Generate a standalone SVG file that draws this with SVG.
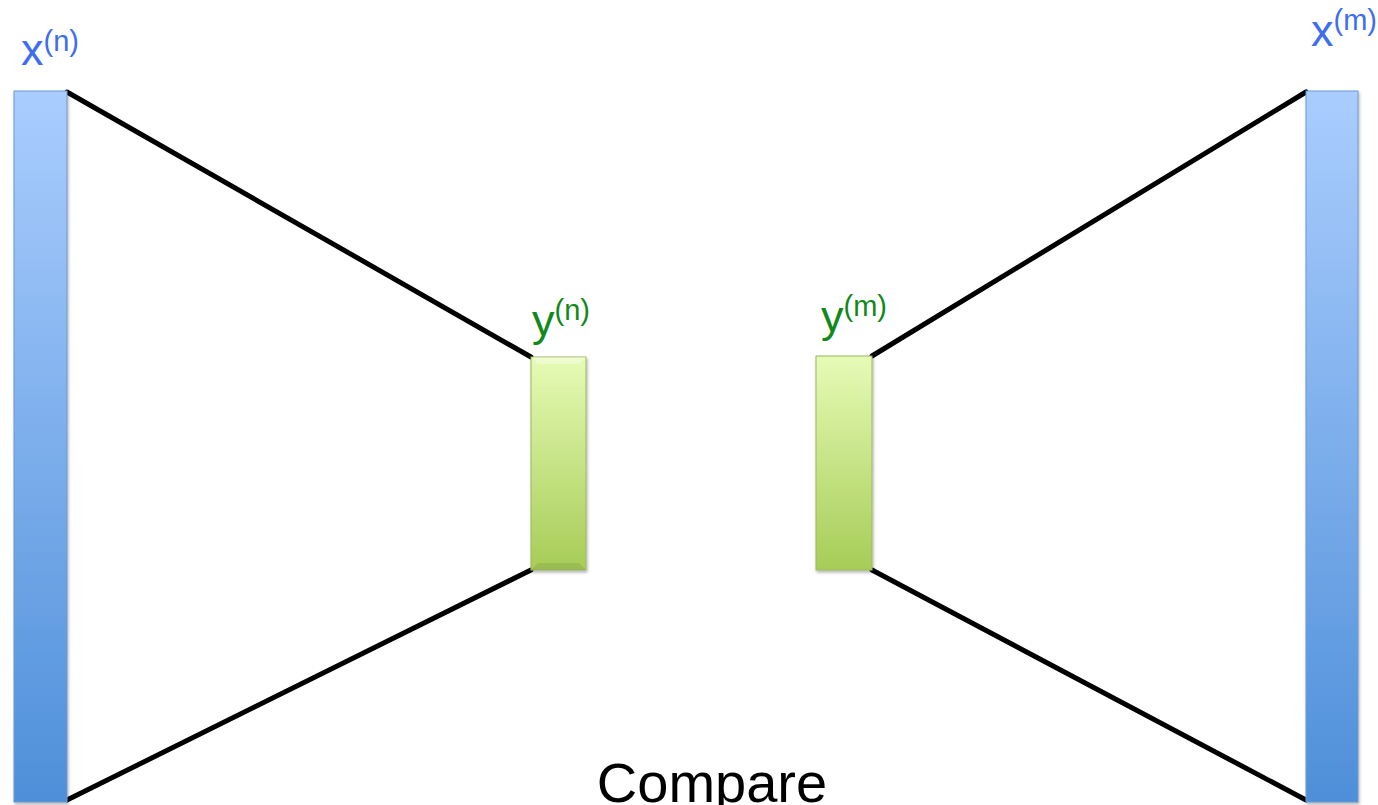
<svg xmlns="http://www.w3.org/2000/svg" width="1378" height="805" viewBox="0 0 1378 805">
<style>
.lbl{font-family:"Liberation Sans",Arial,sans-serif;}
.blue{fill:#3d6ef0;}
.green{fill:#11891a;}
.main{font-size:45px;}
.sup{font-size:29px;}
.conn{stroke:#000;stroke-width:5;fill:none;stroke-linecap:round;}
</style>
<defs>
<linearGradient id="gb" x1="0" y1="0" x2="0" y2="1">
<stop offset="0" stop-color="#aacdfe"/>
<stop offset="1" stop-color="#4e8fd9"/>
</linearGradient>
<linearGradient id="gg" x1="0" y1="0" x2="0" y2="1">
<stop offset="0" stop-color="#e6fbb6"/>
<stop offset="1" stop-color="#a7cc57"/>
</linearGradient>
<filter id="sh" x="-20%" y="-5%" width="140%" height="110%">
<feDropShadow dx="1" dy="2" stdDeviation="1.5" flood-color="#000" flood-opacity="0.3"/>
</filter>
</defs>
<rect width="1378" height="805" fill="#fff"/>
<g id="connectors">
<line class="conn" x1="67" y1="92" x2="531" y2="357"/>
<line class="conn" x1="531" y1="570" x2="67" y2="800"/>
<line class="conn" x1="872" y1="356" x2="1306" y2="92"/>
<line class="conn" x1="872" y1="570" x2="1306" y2="800"/>
</g>
<g id="xn">
<rect x="14" y="91" width="53" height="711" fill="url(#gb)" stroke="#6a9ad0" stroke-width="1" filter="url(#sh)"/>
<text class="lbl blue" x="21" y="65"><tspan class="main">x</tspan><tspan class="sup" dy="-14">(n)</tspan></text>
</g>
<g id="yn">
<rect x="531" y="357" width="55" height="213" fill="url(#gg)" stroke="#9ab861" stroke-width="1" filter="url(#sh)"/>
<polygon points="531,357 586,357 579,364 538,364" fill="#fff" opacity="0.35"/>
<polygon points="531,570 586,570 579,563 538,563" fill="#000" opacity="0.08"/>
<text class="lbl green" x="532" y="336"><tspan class="main">y</tspan><tspan class="sup" dy="-16">(n)</tspan></text>
</g>
<g id="ym">
<rect x="816" y="356" width="56" height="214" fill="url(#gg)" stroke="#9ab861" stroke-width="1" filter="url(#sh)"/>
<text class="lbl green" x="821" y="332"><tspan class="main">y</tspan><tspan class="sup" dy="-16">(m)</tspan></text>
</g>
<g id="xm">
<rect x="1306" y="91" width="52" height="711" fill="url(#gb)" stroke="#6a9ad0" stroke-width="1" filter="url(#sh)"/>
<text class="lbl blue" x="1311" y="46"><tspan class="main">x</tspan><tspan class="sup" dy="-16">(m)</tspan></text>
</g>
<g id="compare">
<text class="lbl" x="712" y="802" text-anchor="middle" font-size="56" fill="#000">Compare</text>
</g>
</svg>
